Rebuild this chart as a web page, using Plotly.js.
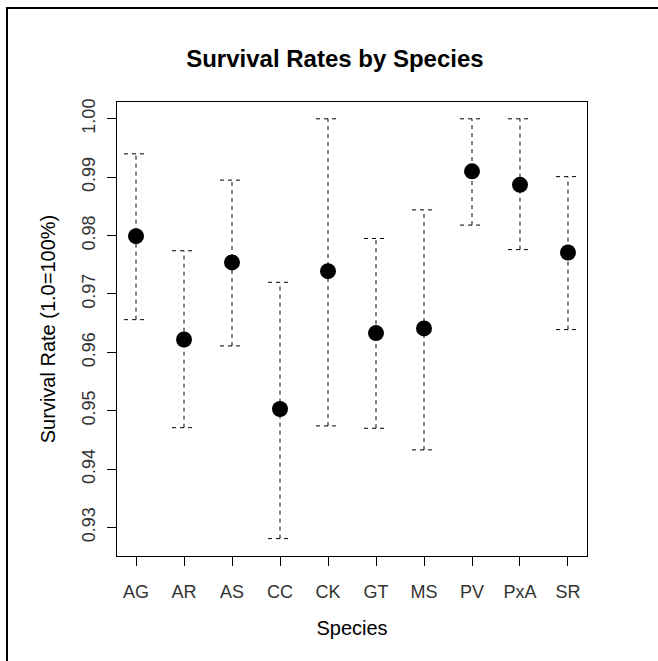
<!DOCTYPE html>
<html>
<head>
<meta charset="utf-8">
<script src="https://cdn.plot.ly/plotly-3.0.1.min.js"></script>
<style>
  html, body { margin: 0; padding: 0; background: #fff; }
  #wrap { position: relative; width: 658px; height: 661px; overflow: hidden; }
  #chart { position: absolute; left: 0; top: 0; width: 658px; height: 661px; }
  #frame { position: absolute; left: 6px; top: 7px; width: 700px; height: 700px;
           border-left: 2px solid #000; border-top: 2px solid #000; pointer-events: none; }
</style>
</head>
<body>
<div id="wrap">
  <div id="chart"></div>
  <div id="frame"></div>
</div>
<script>
// Data
const species = ["AG", "AR", "AS", "CC", "CK", "GT", "MS", "PV", "PxA", "SR"];
const survival = [0.9799, 0.9622, 0.9754, 0.9503, 0.9739, 0.9633, 0.9641, 0.9910, 0.9887, 0.9771];
const upper = [0.9940, 0.9774, 0.9895, 0.9720, 1.0000, 0.9795, 0.9844, 1.0000, 1.0000, 0.9901];
const lower = [0.9656, 0.9471, 0.9611, 0.9281, 0.9474, 0.9470, 0.9433, 0.9818, 0.9776, 0.9639];
const yTicks = [0.93, 0.94, 0.95, 0.96, 0.97, 0.98, 0.99, 1.00];
const yTickLabels = ["0.93", "0.94", "0.95", "0.96", "0.97", "0.98", "0.99", "1.00"];

const pos = species.map((s, i) => i + 1);
const capHalf = 0.25;

// Build dashed whiskers and caps from the arrays
const ex = [], ey = [];
pos.forEach((p, i) => {
  ex.push(p, p, null); ey.push(lower[i], upper[i], null);
  ex.push(p - capHalf, p + capHalf, null); ey.push(upper[i], upper[i], null);
  ex.push(p - capHalf, p + capHalf, null); ey.push(lower[i], lower[i], null);
});

const traces = [
  {
    x: ex, y: ey, type: "scatter", mode: "lines",
    line: { color: "#000", width: 1, dash: "4px,4px" },
    hoverinfo: "skip", showlegend: false
  },
  {
    x: pos, y: survival, type: "scatter", mode: "markers",
    marker: { color: "#000", size: 16, symbol: "circle" },
    showlegend: false
  }
];

const fontFam = "Liberation Sans, Arial, sans-serif";

const layout = {
  width: 658, height: 661,
  margin: { l: 117, r: 71, t: 102, b: 105, pad: 0 },
  paper_bgcolor: "#fff", plot_bgcolor: "#fff",
  font: { family: fontFam, color: "#000", size: 18 },
  title: {
    text: "<b>Survival Rates by Species</b>",
    font: { family: fontFam, size: 24, color: "#000" },
    xref: "container", x: 0.509, xanchor: "center",
    yref: "container", y: 0.9115, yanchor: "middle"
  },
  xaxis: {
    range: [0.604, 10.396],
    tickmode: "array", tickvals: pos, ticktext: species,
    ticks: "outside", ticklen: 9, tickcolor: "#000", tickwidth: 1,
    ticklabelstandoff: 10,
    showline: true, linecolor: "#000", linewidth: 1, mirror: true,
    showgrid: false, zeroline: false,
    tickfont: { family: fontFam, size: 18, color: "#333" },
    title: { text: "Species", font: { family: fontFam, size: 20, color: "#000" }, standoff: 20 }
  },
  yaxis: {
    range: [0.92512, 1.00288],
    tickmode: "array", tickvals: yTicks, ticktext: yTickLabels,
    tickangle: -90,
    ticks: "outside", ticklen: 9, tickcolor: "#000", tickwidth: 1,
    ticklabelstandoff: 5,
    showline: true, linecolor: "#000", linewidth: 1, mirror: true,
    showgrid: false, zeroline: false,
    tickfont: { family: fontFam, size: 18, color: "#333" },
    title: { text: "Survival Rate (1.0=100%)", font: { family: fontFam, size: 20, color: "#000" }, standoff: 17 }
  }
};

Plotly.newPlot("chart", traces, layout, { displayModeBar: false, staticPlot: true });
</script>
</body>
</html>
